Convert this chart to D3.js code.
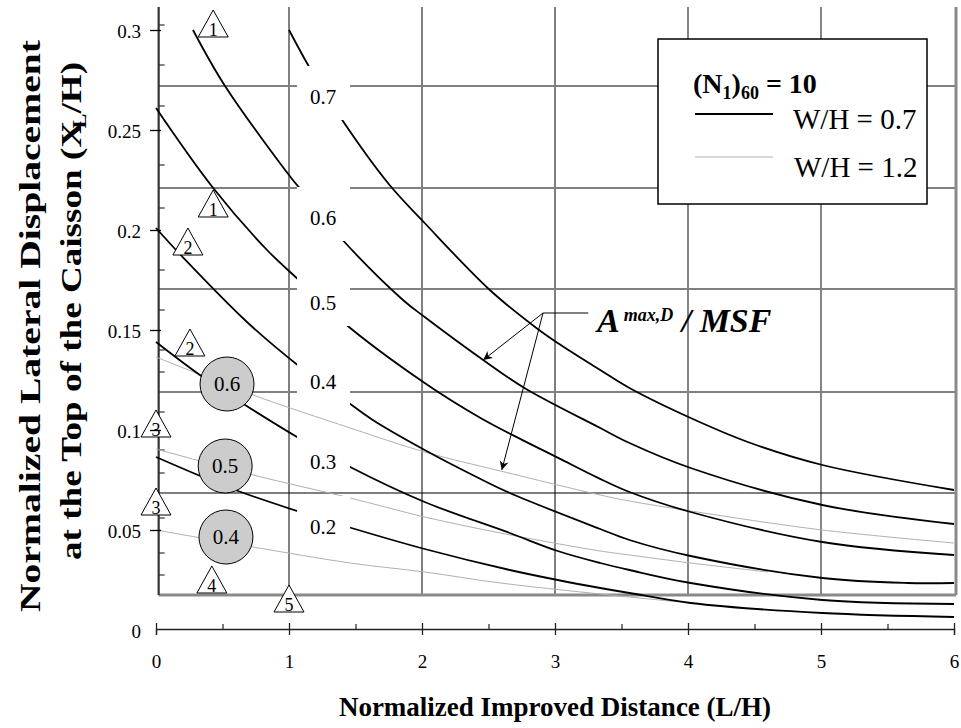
<!DOCTYPE html>
<html lang="en">
<head>
<meta charset="utf-8">
<title>Normalized Lateral Displacement vs Improved Distance</title>
<script src="https://d3js.org/d3.v7.min.js"></script>
<style>
body{margin:0;background:#fff;}
svg text{font-family:"Liberation Serif","Times New Roman",serif;fill:#000;}
</style>
</head>
<body>
<div id="chart"></div>
<script>
// curve labels, A(max,D)/MSF
var levels = ["0.7", "0.6", "0.5", "0.4", "0.3", "0.2"]
// W/H = 0.7 curves, points are [L/H, X/H]
var wh07_a07 = [[1.0,0.300],[1.165,0.28],[1.39,0.256],[1.75,0.223],[2.02,0.2035],[2.51,0.17],[2.86,0.151],[3.02,0.1435],[3.34,0.13],[3.56,0.121],[4.02,0.106],[4.47,0.0935],[5.01,0.0825],[6.0,0.07]]
var wh07_a06 = [[0.278,0.3],[0.519,0.272],[1.023,0.2255],[1.098,0.2195],[1.383,0.1965],[1.857,0.165],[2.02,0.1565],[2.46,0.135],[2.77,0.121],[3.34,0.101],[3.56,0.0935],[4.02,0.081],[5.01,0.0625],[6.0,0.053]]
var wh07_a05 = [[0,0.261],[0.43,0.221],[0.835,0.19],[1.098,0.1735],[1.406,0.154],[2.02,0.1235],[2.44,0.106],[2.76,0.0948],[3.02,0.0862],[3.32,0.0762],[3.56,0.069],[4.02,0.059],[5.01,0.044],[6.0,0.0375]]
var wh07_a04 = [[0,0.201],[0.2,0.1865],[0.684,0.154],[1.083,0.1315],[1.42,0.115],[1.63,0.105],[2.02,0.09],[2.41,0.0765],[2.66,0.0685],[3.34,0.0505],[3.56,0.045],[4.02,0.037],[5.01,0.026],[5.65,0.0235],[6.0,0.0235]]
var wh07_a03 = [[0,0.144],[0.33,0.1275],[0.67,0.1125],[1.098,0.095],[1.46,0.0815],[2.02,0.064],[2.66,0.0485],[3.02,0.0395],[3.34,0.0335],[3.56,0.03],[4.02,0.0235],[5.01,0.015],[6.0,0.013]]
var wh07_a02 = [[0,0.0865],[0.316,0.0775],[0.617,0.0695],[1.083,0.059],[1.47,0.051],[2.02,0.0405],[2.66,0.03],[3.02,0.025],[3.34,0.021],[3.56,0.0185],[4.02,0.0135],[5.01,0.0085],[6.0,0.0065]]
// W/H = 1.2 curves
var wh12_a06 = [[0,0.1365],[0.73,0.1175],[1.46,0.101],[2.02,0.089],[2.59,0.0795],[3.34,0.0675],[3.56,0.0645],[4.02,0.0595],[5.01,0.05],[6.0,0.0435]]
var wh12_a05 = [[0,0.0905],[0.73,0.0775],[1.46,0.066],[2.02,0.0565],[2.59,0.0485],[3.34,0.0395],[3.56,0.0375],[4.02,0.0335],[4.6,0.029]]
var wh12_a04 = [[0,0.05],[0.73,0.0415],[1.46,0.0335],[2.02,0.029],[2.59,0.0235],[3.56,0.0165],[4.02,0.0135]]

// where the curve labels sit, [L/H, X/H]
var levelPos = [[1.256,0.2665],[1.256,0.206],[1.256,0.1635],[1.256,0.124],[1.256,0.084],[1.256,0.0515]]
// circled labels for W/H = 1.2
var circleLabels = ["0.6", "0.5", "0.4"]
var circlePos = [[0.534,0.123],[0.52,0.082],[0.526,0.0465]]
// numbered triangles, [label, L/H, X/H of base]
var triangles = [["1",0.43,0.2965],["1",0.43,0.2065],["2",0.24,0.1875],["2",0.255,0.137],["3",0.0,0.0965],["3",0.0,0.0575],["4",0.42,0.0185],["5",1.0,0.009]]

// axes
var xTicks = [0, 1, 2, 3, 4, 5, 6]
var xMinor = [0.5, 1.5, 2.5, 3.5, 4.5, 5.5]
var yTicks = [0, 0.05, 0.1, 0.15, 0.2, 0.25, 0.3]
var yTickLabels = ["0", "0.05", "0.1", "0.15", "0.2", "0.25", "0.3"]
var yMinor = [0.0275, 0.0385, 0.056, 0.0785, 0.09, 0.109, 0.129, 0.14, 0.16, 0.18, 0.211, 0.2325, 0.262, 0.2825, 0.3025]
// background grid (offset from the axis ticks)
var gridX = [1, 2, 3, 4, 5]
var gridY = [0.272, 0.221, 0.1705, 0.119, 0.0685]
var frame = {left: 0.02, right: 6.015, top: 0.3115, bottom: 0.0175}

var w = 961
var h = 728
var svg = d3.select("#chart").append("svg").attr("width", w).attr("height", h)

var x = d3.scaleLinear().domain([0, 6]).range([156, 954])
var y = d3.scaleLinear().domain([0, 0.3]).range([630, 30])

var defs = svg.append("defs")
defs.append("marker").attr("id", "ah")
    .attr("viewBox", "0 0 10 10").attr("refX", 10).attr("refY", 5)
    .attr("markerWidth", 13).attr("markerHeight", 9)
    .attr("markerUnits", "userSpaceOnUse").attr("orient", "auto")
    .append("path").attr("d", "M0,0L10,5L0,10L3,5z").attr("fill", "#000")

// grid
var grid = svg.append("g")
grid.selectAll(".gx").data(gridX).enter().append("line")
    .attr("x1", d => x(d)).attr("x2", d => x(d))
    .attr("y1", y(frame.top)).attr("y2", y(frame.bottom))
    .attr("stroke", d => d >= 4 ? "#333" : "#808080")
    .attr("stroke-width", d => d >= 4 ? 1.2 : 2)
grid.selectAll(".gy").data(gridY).enter().append("line")
    .attr("x1", x(frame.left)).attr("x2", x(frame.right))
    .attr("y1", d => y(d)).attr("y2", d => y(d))
    .attr("stroke", d => d < 0.1 ? "#000" : "#808080")
    .attr("stroke-width", d => d < 0.1 ? 1.2 : 2)
// frame
grid.append("line").attr("x1", x(frame.left)).attr("x2", x(frame.right))
    .attr("y1", y(frame.bottom)).attr("y2", y(frame.bottom))
    .attr("stroke", "#8a8a8a").attr("stroke-width", 3)
grid.append("line").attr("x1", x(frame.right)).attr("x2", x(frame.right))
    .attr("y1", y(frame.top)).attr("y2", y(frame.bottom))
    .attr("stroke", "#8a8a8a").attr("stroke-width", 3)
grid.append("line").attr("x1", x(frame.left)).attr("x2", x(frame.left))
    .attr("y1", y(frame.top)).attr("y2", y(frame.bottom))
    .attr("stroke", "#333").attr("stroke-width", 2.2)
grid.selectAll(".ym").data(yMinor).enter().append("line")
    .attr("x1", x(frame.left)).attr("x2", x(frame.left) + 6)
    .attr("y1", d => y(d)).attr("y2", d => y(d))
    .attr("stroke", "#333").attr("stroke-width", 1.2)

// curves
var line = d3.line().x(d => x(d[0])).y(d => y(d[1])).curve(d3.curveCatmullRom.alpha(0.5))
var blackCurves = [wh07_a07, wh07_a06, wh07_a05, wh07_a04, wh07_a03, wh07_a02]
var grayCurves = [wh12_a06, wh12_a05, wh12_a04]
svg.selectAll(".g12").data(grayCurves).enter().append("path")
    .attr("d", line).attr("fill", "none")
    .attr("stroke", "#b0b0b0").attr("stroke-width", 1)
svg.selectAll(".b07").data(blackCurves).enter().append("path")
    .attr("d", line).attr("fill", "none")
    .attr("stroke", "#000").attr("stroke-width", 1.8)

// curve labels with white backing
var lab = svg.selectAll(".lvl").data(levels).enter().append("g")
    .attr("transform", (d, i) => "translate(" + x(levelPos[i][0]) + "," + y(levelPos[i][1]) + ")")
lab.append("rect").attr("x", -26).attr("y", -31).attr("width", 53).attr("height", 54).attr("fill", "#fff")
lab.append("text").attr("text-anchor", "middle").attr("y", 7).attr("font-size", 21).text(d => d)

// circled labels
var cir = svg.selectAll(".cir").data(circleLabels).enter().append("g")
    .attr("transform", (d, i) => "translate(" + x(circlePos[i][0]) + "," + y(circlePos[i][1]) + ")")
cir.append("circle").attr("r", 27).attr("fill", "#cccccc").attr("stroke", "#000").attr("stroke-width", 1)
cir.append("text").attr("text-anchor", "middle").attr("y", 7).attr("font-size", 21).text(d => d)

// triangles
var tri = svg.selectAll(".tri").data(triangles).enter().append("g")
    .attr("transform", d => "translate(" + x(d[1]) + "," + y(d[2]) + ")")
tri.append("path").attr("d", "M0,-27L15,0L-15,0Z").attr("fill", "#fff").attr("stroke", "#000").attr("stroke-width", 1)
tri.append("text").attr("text-anchor", "middle").attr("y", -1).attr("font-size", 18).text(d => d[0])

// annotation
var ann = {text: [3.25, 0.1585], join: [2.91, 0.1585], tips: [[2.46, 0.135], [2.6, 0.08]]}
svg.append("line").attr("x1", x(ann.join[0])).attr("x2", x(ann.text[0]))
    .attr("y1", y(ann.join[1])).attr("y2", y(ann.text[1])).attr("stroke", "#000")
svg.selectAll(".arr").data(ann.tips).enter().append("line")
    .attr("x1", x(ann.join[0])).attr("y1", y(ann.join[1]))
    .attr("x2", d => x(d[0])).attr("y2", d => y(d[1]))
    .attr("stroke", "#000").attr("stroke-width", 1).attr("marker-end", "url(#ah)")
var at = svg.append("text").attr("x", 597).attr("y", 332)
    .attr("font-weight", "bold").attr("font-style", "italic").attr("font-size", 34)
at.append("tspan").text("A")
at.append("tspan").attr("font-size", 18).attr("dx", 4).attr("dy", -11).text("max,D")
at.append("tspan").attr("dy", 11).text(" / MSF")

// legend
var lg = svg.append("g")
lg.append("rect").attr("x", 658).attr("y", 39).attr("width", 269).attr("height", 165)
    .attr("fill", "#fff").attr("stroke", "#000").attr("stroke-width", 1.5)
var lt = lg.append("text").attr("x", 693).attr("y", 93).attr("font-weight", "bold").attr("font-size", 28)
lt.append("tspan").text("(N")
lt.append("tspan").attr("font-size", 18).attr("dy", 6).text("1")
lt.append("tspan").attr("dy", -6).text(")")
lt.append("tspan").attr("font-size", 18).attr("dy", 6).text("60")
lt.append("tspan").attr("dy", -6).text(" = 10")
lg.append("line").attr("x1", 695).attr("x2", 773).attr("y1", 114).attr("y2", 114).attr("stroke", "#000").attr("stroke-width", 2)
lg.append("line").attr("x1", 695).attr("x2", 773).attr("y1", 157).attr("y2", 157).attr("stroke", "#b0b0b0").attr("stroke-width", 1)
lg.append("text").attr("x", 793).attr("y", 129).attr("font-size", 29).text("W/H = 0.7")
lg.append("text").attr("x", 794).attr("y", 177).attr("font-size", 29).text("W/H = 1.2")

// y axis
var yAxis = svg.append("g").attr("transform", "translate(161,0)")
    .call(d3.axisLeft(y).tickValues(yTicks).tickSize(11).tickPadding(9).tickFormat((d, i) => yTickLabels[i]))
yAxis.select(".domain").remove()
yAxis.selectAll(".tick line").attr("stroke", "#000").attr("stroke-width", 1.3).attr("opacity", d => d === 0 ? 0 : 1)
yAxis.selectAll(".tick text").attr("font-size", 19).attr("dy", "0.42em")

// x axis
var xAxis = svg.append("g").attr("transform", "translate(0,629)")
    .call(d3.axisBottom(x).tickValues(xTicks).tickSize(6).tickPadding(20).tickFormat(d => d))
xAxis.select(".domain").attr("stroke", "#222").attr("stroke-width", 1.3)
xAxis.selectAll(".tick line").attr("y1", -6).attr("stroke", "#222").attr("stroke-width", 1.3)
xAxis.selectAll(".tick text").attr("font-size", 19)
var xm = svg.append("g").attr("transform", "translate(0,629)")
    .call(d3.axisBottom(x).tickValues(xMinor).tickSize(-5).tickFormat(""))
xm.select(".domain").remove()
xm.selectAll(".tick line").attr("stroke", "#222").attr("stroke-width", 1.2)

// axis titles
svg.append("text").attr("x", 555).attr("y", 716).attr("text-anchor", "middle")
    .attr("font-weight", "bold").attr("font-size", 27).text("Normalized Improved Distance (L/H)")
svg.append("text").attr("transform", "translate(40,326) rotate(-90)").attr("text-anchor", "middle")
    .attr("font-weight", "bold").attr("font-size", 30)
    .attr("textLength", 572).attr("lengthAdjust", "spacingAndGlyphs")
    .text("Normalized Lateral Displacement")
var yt2 = svg.append("text").attr("transform", "translate(81,311) rotate(-90)").attr("text-anchor", "middle")
    .attr("font-weight", "bold").attr("font-size", 30)
    .attr("textLength", 498).attr("lengthAdjust", "spacingAndGlyphs")
yt2.append("tspan").text("at the Top of the Caisson (X")
yt2.append("tspan").attr("font-size", 18).attr("dx", -6).attr("dy", 5).text("L")
yt2.append("tspan").attr("dy", -5).text("/H)")
</script>
</body>
</html>
